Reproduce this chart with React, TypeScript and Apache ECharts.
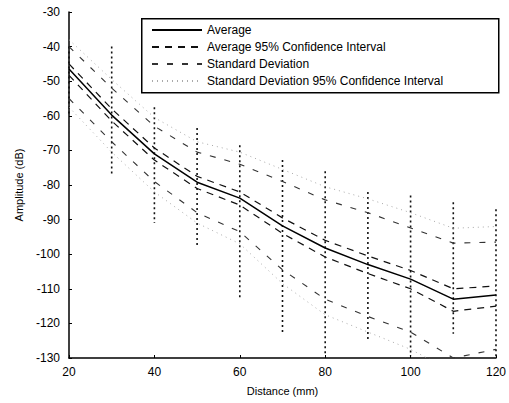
import React, { useEffect, useRef } from "react";
import * as echarts from "echarts";

const distances = [20, 30, 40, 50, 60, 70, 80, 90, 100, 110, 120];
const average = [-46.5, -59.8, -71, -79.2, -83.8, -91.8, -98.2, -103, -107.2, -113, -111.8];
const avgCIUpper = [-45, -58, -69.3, -77.5, -82, -89.5, -96, -100.5, -104.7, -110, -109.2];
const avgCILower = [-48.3, -61.5, -72.8, -81, -85.8, -94, -100.8, -105.6, -110, -116.5, -115];
const sdUpper = [-40, -52, -63, -70.5, -74, -79, -84.3, -88, -92.4, -96.8, -96.5];
const sdLower = [-55, -67.5, -79, -88, -93.5, -104.5, -113, -118, -122.5, -130, -127.5];
const sdCIUpper = [-38, -49.5, -60.5, -67.5, -70.5, -75.5, -80.5, -84, -88, -92.5, -92];
const sdCILower = [-57.5, -70.5, -82, -91, -97, -108.5, -117.5, -122.5, -127.5, -134, -132];
const rawTop = [-40, -40, -57.5, -63.5, -68.5, -72.8, -76, -82, -83, -85, -87];
const rawBottom = [-60, -77, -91, -98, -113, -122.5, -129.5, -125, -129.5, -123, -130];

const N_AVG = "Average";
const N_AVGCI = "Average 95% Confidence Interval";
const N_SD = "Standard Deviation";
const N_SDCI = "Standard Deviation 95% Confidence Interval";

const FONT = "Liberation Sans, Arial, sans-serif";

const pairs = (ys: number[]) => distances.map((d, i) => [d, ys[i]]);

export default function App() {
  const ref = useRef<HTMLDivElement>(null);
  useEffect(() => {
    if (!ref.current) return;
    const chart = echarts.init(ref.current, undefined, { renderer: "svg" });
    const lineSeries = (name: string, ys: number[], style: any, z = 3) => ({
      type: "line",
      name,
      data: pairs(ys),
      symbol: "none",
      lineStyle: style,
      itemStyle: { color: style.color },
      z,
      clip: true,
    });
    const avgStyle = { color: "#000", width: 1.5, type: "solid" };
    const avgCIStyle = { color: "#111", width: 1.2, type: [7, 6] };
    const sdStyle = { color: "#333", width: 1.1, type: [6, 9] };
    const sdCIStyle = { color: "#aaa", width: 1, type: [1, 4] };
    chart.setOption({
      animation: false,
      backgroundColor: "#fff",
      textStyle: { fontFamily: FONT },
      grid: { left: 69, right: 7, top: 12, bottom: 45 },
      graphic: [
        {
          type: "rect",
          left: 141,
          top: 18,
          shape: { width: 357, height: 74 },
          style: { fill: "#fff", stroke: "#000", lineWidth: 1.5 },
          z: 90,
        },
      ],
      legend: {
        orient: "vertical",
        left: 141,
        top: 18,
        z: 100,
        data: [N_AVG, N_AVGCI, N_SD, N_SDCI],
        padding: [6, 10, 5, 10],
        itemWidth: 50,
        itemHeight: 12,
        itemGap: 5,
        itemStyle: { opacity: 0 },
        textStyle: { fontSize: 12, color: "#000", fontFamily: FONT },
      },
      xAxis: {
        type: "value",
        min: 20,
        max: 120,
        interval: 20,
        name: "Distance (mm)",
        nameLocation: "middle",
        nameGap: 27,
        nameTextStyle: { fontSize: 11, color: "#000", fontFamily: FONT },
        axisLine: { lineStyle: { color: "#000", width: 1.5 } },
        axisTick: { inside: true, length: 3, lineStyle: { color: "#000" } },
        axisLabel: { fontSize: 12, color: "#000", margin: 8, fontFamily: FONT },
        splitLine: { show: false },
      },
      yAxis: {
        type: "value",
        min: -130,
        max: -30,
        interval: 10,
        name: "Amplitude (dB)",
        nameLocation: "middle",
        nameGap: 45,
        nameTextStyle: { fontSize: 11, color: "#000", fontFamily: FONT },
        axisLine: { show: true, lineStyle: { color: "#000", width: 1.5 } },
        axisTick: { show: true, inside: true, length: 3, lineStyle: { color: "#000" } },
        axisLabel: { fontSize: 12, color: "#000", margin: 9, fontFamily: FONT },
        splitLine: { show: false },
      },
      series: [
        {
          type: "custom",
          name: "raw",
          data: distances.map((d, i) => [d, rawTop[i], rawBottom[i]]),
          encode: { x: 0, y: [1, 2] },
          z: 2,
          renderItem: (params: any, api: any) => {
            const x = api.value(0);
            const p1 = api.coord([x, api.value(1)]);
            const p2 = api.coord([x, api.value(2)]);
            return {
              type: "line",
              shape: { x1: p1[0], y1: p1[1], x2: p2[0], y2: p2[1] },
              style: { stroke: "#111", lineWidth: 1.6, lineDash: [2, 3] },
            };
          },
        },
        lineSeries(N_AVG, average, avgStyle, 5),
        lineSeries(N_AVGCI, avgCIUpper, avgCIStyle, 4),
        lineSeries(N_AVGCI, avgCILower, avgCIStyle, 4),
        lineSeries(N_SD, sdUpper, sdStyle, 3),
        lineSeries(N_SD, sdLower, sdStyle, 3),
        lineSeries(N_SDCI, sdCIUpper, sdCIStyle, 3),
        lineSeries(N_SDCI, sdCILower, sdCIStyle, 3),
      ],
    });
    return () => chart.dispose();
  }, []);
  return (
    <div
      ref={ref}
      style={{ position: "fixed", left: 0, top: 0, width: 509, height: 403, background: "#fff" }}
    />
  );
}
